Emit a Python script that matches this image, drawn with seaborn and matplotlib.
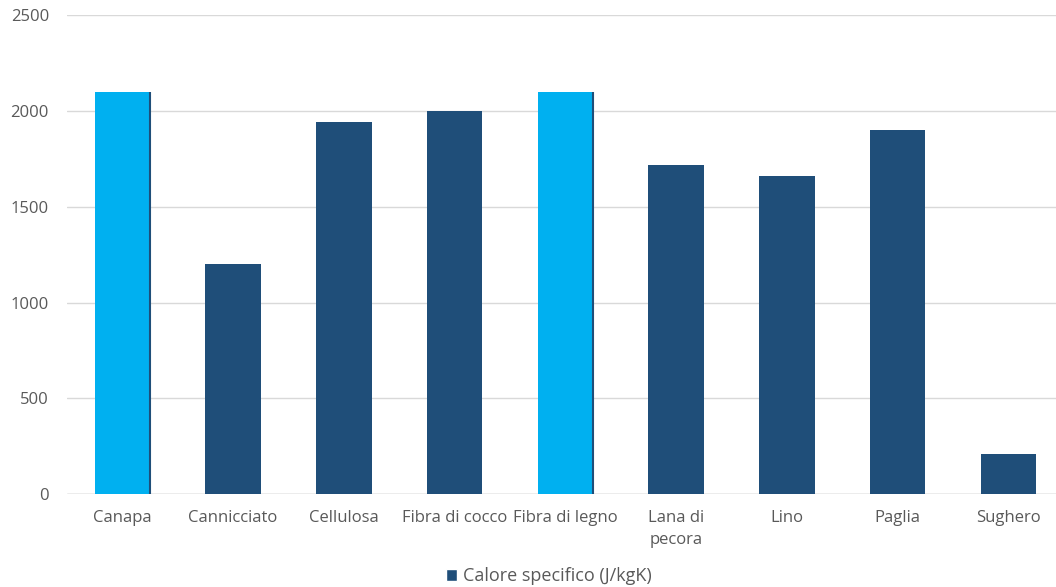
import matplotlib
matplotlib.use("Agg")
import matplotlib.pyplot as plt
import seaborn as sns
import pandas as pd
from matplotlib.patches import Patch

categories = ["Canapa", "Cannicciato", "Cellulosa", "Fibra di cocco", "Fibra di legno",
              "Lana di\npecora", "Lino", "Paglia", "Sughero"]
values = [2100, 1200, 1945, 2000, 2100, 1720, 1660, 1900, 210]
highlight = [True, False, False, False, True, False, False, False, False]
series_name = "Calore specifico (J/kgK)"
yticks = [0, 500, 1000, 1500, 2000, 2500]

DARK = "#1F4E79"
LIGHT = "#00B0F0"
TEXT = "#595959"

sns.set_theme(style="white")
plt.rcParams["font.family"] = ["Open Sans", "DejaVu Sans"]

df = pd.DataFrame({"cat": categories, "val": values})
palette = {c: (LIGHT if h else DARK) for c, h in zip(categories, highlight)}

fig = plt.figure(figsize=(10.56, 5.87), dpi=100)
ax = fig.add_axes([0.0634, 0.158, 0.944, 0.816])

sns.barplot(data=df, x="cat", y="val", hue="cat", palette=palette, width=0.5,
            legend=False, ax=ax, saturation=1, zorder=3)
for p, h in zip(ax.patches, highlight):
    p.set_edgecolor("none")
    if h:
        x = p.get_x() + p.get_width()
        ax.plot([x, x], [0, p.get_height()], color=DARK, lw=1.5, zorder=4,
                solid_capstyle="butt")

ax.set_ylim(0, 2500)
ax.set_yticks(yticks)
ax.set_xlim(-0.5, len(categories) - 0.5)
ax.yaxis.grid(True, color="#D9D9D9", lw=1, zorder=0)
ax.axhline(0, color="#BFBFBF", lw=1, zorder=2)
for s in ax.spines.values():
    s.set_visible(False)
ax.set_xlabel("")
ax.set_ylabel("")
ax.tick_params(axis="both", length=0, colors=TEXT, labelsize=12)
ax.tick_params(axis="y", pad=13)
ax.tick_params(axis="x", pad=11)
for lab in ax.get_xticklabels():
    lab.set_verticalalignment("top")
    lab.set_linespacing(1.5)

fig.legend(handles=[Patch(facecolor=DARK, label=series_name)], loc="lower center",
           bbox_to_anchor=(0.52, -0.025), frameon=False, fontsize=13,
           handlelength=0.6, handleheight=0.6, handletextpad=0.35, labelcolor=TEXT)

fig.savefig("out.png", dpi=100, facecolor="white")
